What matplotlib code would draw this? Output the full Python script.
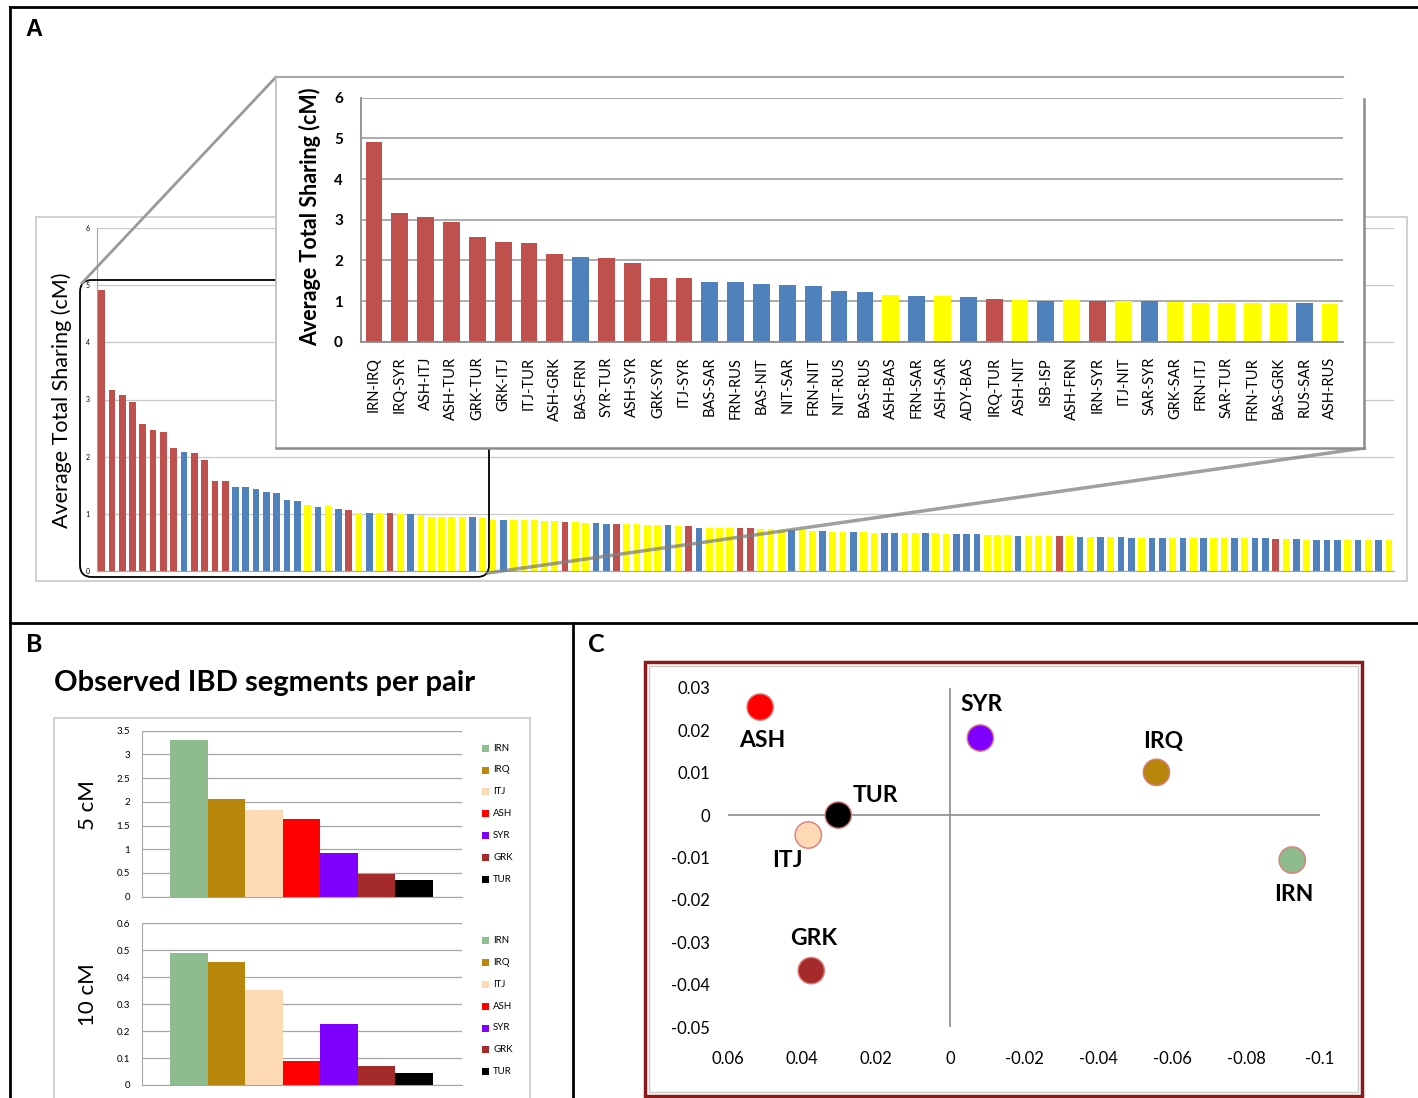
import numpy as np
import matplotlib
matplotlib.use("Agg")
import matplotlib.pyplot as plt
from matplotlib.patches import Rectangle, FancyBboxPatch, Polygon
from matplotlib.ticker import FormatStrFormatter

plt.rcParams['font.family'] = ['Lato', 'DejaVu Sans']

# ---- panel A data: average total sharing per population pair (sorted) ----
# R = red, B = blue, Y = yellow
sharing = [
    4.92, 3.16, 3.07, 2.95, 2.57, 2.46, 2.43, 2.15, 2.08, 2.06,
    1.94, 1.57, 1.57, 1.47, 1.47, 1.43, 1.39, 1.36, 1.25, 1.22,
    1.16, 1.12, 1.13, 1.09, 1.06, 1.02, 1.01, 1.02, 1.01, 0.99,
    0.99, 0.98, 0.95, 0.95, 0.95, 0.95, 0.94, 0.92,
    0.90, 0.90, 0.90, 0.90, 0.89, 0.87, 0.87, 0.85, 0.85, 0.845,
    0.84, 0.83, 0.83, 0.83, 0.82, 0.81, 0.80, 0.80, 0.78, 0.78,
    0.76, 0.75, 0.75, 0.75, 0.745, 0.745, 0.74, 0.73, 0.72, 0.71,
    0.71, 0.70, 0.70, 0.69, 0.68, 0.68, 0.68, 0.67, 0.67, 0.665,
    0.66, 0.66, 0.66, 0.66,
    0.65, 0.65, 0.65, 0.65, 0.63, 0.63, 0.63, 0.62, 0.62, 0.62,
    0.61, 0.61, 0.61, 0.60, 0.59, 0.59, 0.59, 0.59, 0.58, 0.58,
    0.58, 0.58, 0.58, 0.58, 0.58, 0.57, 0.57, 0.57, 0.57, 0.57,
    0.57, 0.57, 0.56, 0.56, 0.56, 0.55, 0.55, 0.55, 0.55, 0.55,
    0.55, 0.55, 0.54, 0.54,
]
pair_group = list(
    "RRRRRRRRBRRRRBBBBBBBYBYBRYBYRYBYYYYYBY"
    "YBYYYYYRYYBBRYYYYBYRBYYYRRYYYBYYBYYBYYBBYYBY"
    "YBBBYYYBYYYRYBYBYBBYBBYBYBYYBYBBRYBYBBBYBYBY"
)
inset_pairs = [
    "IRN-IRQ", "IRQ-SYR", "ASH-ITJ", "ASH-TUR", "GRK-TUR", "GRK-ITJ", "ITJ-TUR",
    "ASH-GRK", "BAS-FRN", "SYR-TUR", "ASH-SYR", "GRK-SYR", "ITJ-SYR", "BAS-SAR",
    "FRN-RUS", "BAS-NIT", "NIT-SAR", "FRN-NIT", "NIT-RUS", "BAS-RUS", "ASH-BAS",
    "FRN-SAR", "ASH-SAR", "ADY-BAS", "IRQ-TUR", "ASH-NIT", "ISB-ISP", "ASH-FRN",
    "IRN-SYR", "ITJ-NIT", "SAR-SYR", "GRK-SAR", "FRN-ITJ", "SAR-TUR", "FRN-TUR",
    "BAS-GRK", "RUS-SAR", "ASH-RUS",
]

# ---- panel B data: observed IBD segments per pair ----
pops_b = ["IRN", "IRQ", "ITJ", "ASH", "SYR", "GRK", "TUR"]
seg_5cm = [3.30, 2.05, 1.83, 1.63, 0.93, 0.47, 0.36]
seg_10cm = [0.49, 0.455, 0.353, 0.089, 0.226, 0.072, 0.046]

# ---- panel C data: PCA-like coordinates ----
pops_c = ["ASH", "SYR", "IRQ", "TUR", "ITJ", "IRN", "GRK"]
pc_x = [0.0513, -0.0082, -0.0558, 0.0302, 0.0383, -0.0925, 0.0375]
pc_y = [0.0255, 0.0182, 0.0101, 0.0, -0.0047, -0.0106, -0.0367]

group_colors = {"R": "#c0504d", "B": "#4f81bd", "Y": "#ffff00"}
pop_colors = {"IRN": "#8fbc8f", "IRQ": "#b8860b", "ITJ": "#fdd9b5", "ASH": "#ff0000",
              "SYR": "#8000ff", "GRK": "#a52a2a", "TUR": "#000000"}

W, H = 1418, 1098


def box(x0, y0, x1, y1):
    return [x0 / W, 1 - y1 / H, (x1 - x0) / W, (y1 - y0) / H]


fig = plt.figure(figsize=(W / 100, H / 100), dpi=100)

# overlay for frames, connectors, texts
ov = fig.add_axes([0, 0, 1, 1], zorder=2)
ov.set_xlim(0, W)
ov.set_ylim(H, 0)
ov.axis("off")
ov.patch.set_alpha(0)

# ---------------- panel A main chart ----------------
ax = fig.add_axes(box(96.5, 228, 1394, 571), zorder=1)
n = len(sharing)
ax.bar(np.arange(n), sharing, width=0.65,
       color=[group_colors[g] for g in pair_group[:n]])
ax.set_xlim(-0.5, n - 0.5)
ax.set_ylim(0, 6)
ax.set_yticks(range(7))
ax.set_xticks([])
ax.tick_params(axis="y", length=0, labelsize=5, pad=5)
ax.grid(axis="y", color="#c8c8c8", lw=0.9)
ax.set_axisbelow(True)
for s in ["top", "right"]:
    ax.spines[s].set_visible(False)
for s in ["left", "bottom"]:
    ax.spines[s].set_color("#a6a6a6")

ov.add_patch(Rectangle((36, 217), 1371, 364, fill=False, ec="#c8c8c8", lw=1.2, zorder=0.5))
ov.text(62, 400, "Average Total Sharing (cM)", rotation=90, ha="center", va="center",
        fontsize=15.5)

# zoom frame and connectors
ov.add_patch(FancyBboxPatch((80, 280), 409, 297, boxstyle="round,pad=0,rounding_size=12",
                            fill=False, ec="black", lw=1.3, zorder=1))
ov.plot([82, 276], [283, 77], color="#9a9a9a", lw=2, zorder=2)
ov.plot([488, 1364], [573, 448], color="#7f7f7f", lw=2.5, alpha=0.75, zorder=2)

# inset frame
ov.add_patch(Polygon([(276, 77), (1343, 77), (1364, 99), (1364, 448), (276, 448)],
                     closed=True, fc="white", ec="none", zorder=3))
ov.plot([276, 1343], [77, 77], color="#a6a6a6", lw=1.5, zorder=4)
ov.plot([276, 276], [77, 448], color="#bdbdbd", lw=1.2, zorder=4)
ov.plot([1364, 1364], [99, 448], color="#8c8c8c", lw=1.8, zorder=4)
ov.plot([276, 1364], [448, 448], color="#8c8c8c", lw=1.8, zorder=4)

# ---------------- panel A inset ----------------
axi = fig.add_axes(box(361, 97.7, 1343, 341.7), zorder=3)
ni = len(inset_pairs)
axi.bar(np.arange(ni), sharing[:ni], width=0.65,
        color=[group_colors[g] for g in pair_group[:ni]])
axi.set_xlim(-0.5, ni - 0.5)
axi.set_ylim(0, 6)
axi.set_yticks(range(7))
axi.set_xticks(np.arange(ni))
axi.set_xticklabels(inset_pairs, rotation=90, fontsize=10.5)
axi.tick_params(axis="x", length=0, pad=11)
axi.tick_params(axis="y", length=0, labelsize=11, pad=13)
for lab in axi.get_yticklabels():
    lab.set_fontweight("bold")
axi.grid(axis="y", color="#a6a6a6", lw=1.3)
axi.set_axisbelow(True)
for s in ["top", "right"]:
    axi.spines[s].set_visible(False)
for s in ["left", "bottom"]:
    axi.spines[s].set_color("#8c8c8c")
    axi.spines[s].set_linewidth(1.3)
ov.text(310, 217, "Average Total Sharing (cM)", rotation=90, ha="center", va="center",
        fontsize=15.5, fontweight="bold", zorder=5)

# ---------------- panel B ----------------
ov.add_patch(Rectangle((54, 718), 476, 385, fill=False, ec="#c8c8c8", lw=1.2))
ov.text(54, 683, "Observed IBD segments per pair", ha="left", va="center",
        fontsize=21, fontweight="bold")

for vals, top, bot, ymax, step, label, lab_y in [
    (seg_5cm, 730.7, 896.7, 3.5, 0.5, "5 cM", 805),
    (seg_10cm, 923.3, 1085, 0.6, 0.1, "10 cM", 995),
]:
    axb = fig.add_axes(box(142.3, top, 461.7, bot), zorder=1)
    axb.bar(np.arange(len(pops_b)), vals, width=1.0,
            color=[pop_colors[p] for p in pops_b])
    axb.set_xlim(-1.24, 7.27)
    axb.set_ylim(0, ymax)
    axb.set_yticks(np.round(np.arange(0, ymax + step / 2, step), 2))
    axb.yaxis.set_major_formatter(FormatStrFormatter("%g"))
    axb.set_xticks([])
    axb.tick_params(axis="y", length=0, labelsize=7, pad=9)
    axb.grid(axis="y", color="#a6a6a6", lw=0.9)
    axb.set_axisbelow(True)
    for s in ["top", "right"]:
        axb.spines[s].set_visible(False)
    for s in ["left", "bottom"]:
        axb.spines[s].set_color("#a6a6a6")
    ov.text(88, lab_y, label, rotation=90, ha="center", va="center", fontsize=16)
    y0 = top + 17.5
    for i, p in enumerate(pops_b):
        yy = y0 + 21.8 * i
        ov.add_patch(Rectangle((481.5, yy - 3.5), 7.5, 7, fc=pop_colors[p], ec="none"))
        ov.text(493, yy, p, ha="left", va="center", fontsize=7)

# ---------------- panel C ----------------
ov.add_patch(Rectangle((645, 662), 717, 434, fill=False, ec="#8b1a1a", lw=2.5))
ov.add_patch(Rectangle((649, 666), 709, 426, fill=False, ec="#c8c8c8", lw=1))

axc = fig.add_axes(box(728, 688, 1320, 1027), zorder=1)
axc.patch.set_alpha(0)
axc.set_xlim(0.06, -0.1)
axc.set_ylim(-0.05, 0.03)
xt = [0.06, 0.04, 0.02, 0, -0.02, -0.04, -0.06, -0.08, -0.1]
yt = [0.03, 0.02, 0.01, 0, -0.01, -0.02, -0.03, -0.04, -0.05]
axc.set_xticks(xt)
axc.set_xticklabels([f"{v:g}" for v in xt])
axc.set_yticks(yt)
axc.set_yticklabels([f"{v:g}" for v in yt])
axc.tick_params(axis="x", length=0, labelsize=12, pad=17)
axc.tick_params(axis="y", length=0, labelsize=12, pad=13)
for s in axc.spines.values():
    s.set_visible(False)
axc.axhline(0, color="#8c8c8c", lw=1.2)
axc.axvline(0, color="#8c8c8c", lw=1.2)
axc.scatter(pc_x, pc_y, s=360, c=[pop_colors[p] for p in pops_c],
            edgecolors="#e07a7a", linewidths=1, zorder=3)
label_offsets = {"ASH": (1.5, -24), "SYR": (1, 24), "IRQ": (5, 22.5), "TUR": (26.5, 14),
                 "ITJ": (-15, -18), "IRN": (1, -25), "GRK": (1.5, 23)}
for p, x, y in zip(pops_c, pc_x, pc_y):
    axc.annotate(p, (x, y), xytext=label_offsets[p], textcoords="offset points",
                 ha="center", va="center", fontsize=16.5, fontweight="bold")

# ---------------- figure frame and panel letters ----------------
ov.plot([10, W], [7, 7], color="black", lw=2)
ov.plot([10, 10], [7, H], color="black", lw=2)
ov.plot([10, W], [623, 623], color="black", lw=2)
ov.plot([572.5, 572.5], [623, H], color="black", lw=2)
ov.text(34, 29, "A", fontsize=17, fontweight="bold", ha="center", va="center",
        family=["Liberation Sans", "DejaVu Sans"])
ov.text(34, 644, "B", fontsize=18, fontweight="bold", ha="center", va="center")
ov.text(596, 644, "C", fontsize=18, fontweight="bold", ha="center", va="center")

fig.savefig("out.png", dpi=100)
